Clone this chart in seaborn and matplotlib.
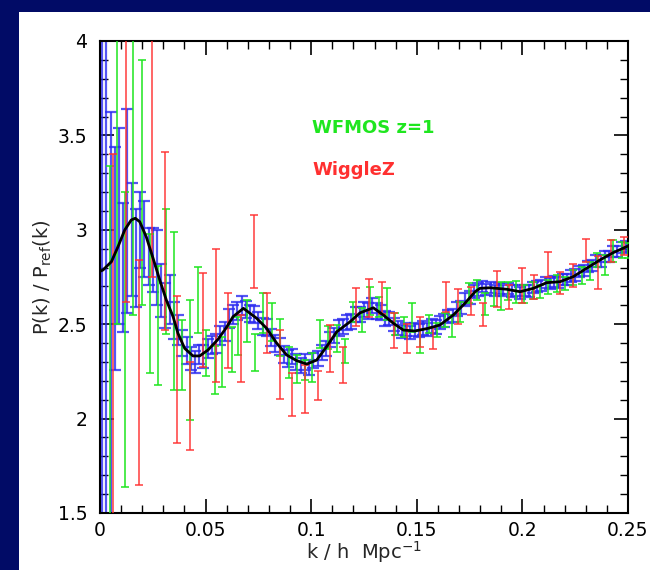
import matplotlib
matplotlib.use("Agg")
import matplotlib.pyplot as plt
from matplotlib.patches import Rectangle
from matplotlib.ticker import MultipleLocator
import seaborn as sns

# Model ratio curve P(k)/P_ref(k)
model_k = [0.0, 0.0014, 0.0054, 0.0085, 0.0117, 0.0148, 0.0167, 0.0188, 0.0219, 0.0251,
           0.0283, 0.0314, 0.0346, 0.0369, 0.0401, 0.044, 0.0472, 0.0511, 0.0559, 0.0597,
           0.063, 0.0679, 0.0742, 0.0789, 0.0837, 0.0884, 0.0931, 0.0979, 0.1026, 0.1073,
           0.1121, 0.1184, 0.1231, 0.1294, 0.1341, 0.1389, 0.1436, 0.1491, 0.1554, 0.161,
           0.1673, 0.1728, 0.1776, 0.1799, 0.1847, 0.1926, 0.1989, 0.2052, 0.2115, 0.2178,
           0.2241, 0.2304, 0.2367, 0.243, 0.25]
model_ratio = [2.78, 2.787, 2.831, 2.91, 2.999, 3.052, 3.061, 3.043, 2.963, 2.85,
               2.734, 2.628, 2.54, 2.452, 2.372, 2.332, 2.332, 2.363, 2.42, 2.48,
               2.54, 2.584, 2.531, 2.478, 2.399, 2.337, 2.307, 2.289, 2.31, 2.381,
               2.46, 2.513, 2.56, 2.587, 2.549, 2.505, 2.469, 2.464, 2.478, 2.496,
               2.549, 2.611, 2.672, 2.69, 2.693, 2.685, 2.672, 2.69, 2.72, 2.725,
               2.752, 2.796, 2.84, 2.879, 2.914]

# Simulated survey band powers: WFMOS z=1 (blue, fine binning)
wfmos_fine_k = [0.001, 0.003, 0.005, 0.007, 0.009, 0.011, 0.013, 0.015, 0.017, 0.019,
                0.021, 0.023, 0.025, 0.027, 0.029, 0.031, 0.033, 0.035, 0.037, 0.039,
                0.041, 0.043, 0.045, 0.047, 0.049, 0.051, 0.053, 0.055, 0.057, 0.059,
                0.061, 0.063, 0.065, 0.067, 0.069, 0.071, 0.073, 0.075, 0.077, 0.079,
                0.081, 0.083, 0.085, 0.087, 0.089, 0.091, 0.093, 0.095, 0.097, 0.099,
                0.101, 0.103, 0.105, 0.107, 0.109, 0.111, 0.113, 0.115, 0.117, 0.119,
                0.121, 0.123, 0.125, 0.127, 0.129, 0.131, 0.133, 0.135, 0.137, 0.139,
                0.141, 0.143, 0.145, 0.147, 0.149, 0.151, 0.153, 0.155, 0.157, 0.159,
                0.161, 0.163, 0.165, 0.167, 0.169, 0.171, 0.173, 0.175, 0.177, 0.179,
                0.181, 0.183, 0.185, 0.187, 0.189, 0.191, 0.193, 0.195, 0.197, 0.199,
                0.201, 0.203, 0.205, 0.207, 0.209, 0.211, 0.213, 0.215, 0.217, 0.219,
                0.221, 0.223, 0.225, 0.227, 0.229, 0.231, 0.233, 0.235, 0.237, 0.239,
                0.241, 0.243, 0.245, 0.247, 0.249]
wfmos_fine_p = [2.8, 2.9, 2.5, 2.85, 3.02, 2.8, 3.1, 2.95, 2.85, 3.0,
                2.95, 2.86, 2.84, 2.8, 2.68, 2.6, 2.63, 2.52, 2.47, 2.4,
                2.36, 2.32, 2.3, 2.34, 2.33, 2.37, 2.39, 2.4, 2.44, 2.46,
                2.53, 2.55, 2.57, 2.6, 2.58, 2.555, 2.55, 2.52, 2.49, 2.48,
                2.43, 2.4, 2.38, 2.34, 2.32, 2.33, 2.3, 2.28, 2.3, 2.27,
                2.31, 2.32, 2.35, 2.37, 2.42, 2.44, 2.48, 2.49, 2.51, 2.515,
                2.55, 2.55, 2.58, 2.57, 2.6, 2.57, 2.56, 2.53, 2.53, 2.5,
                2.48, 2.46, 2.47, 2.455, 2.47, 2.465, 2.48, 2.47, 2.49, 2.485,
                2.51, 2.52, 2.54, 2.545, 2.58, 2.59, 2.63, 2.64, 2.675, 2.685,
                2.7, 2.685, 2.695, 2.68, 2.69, 2.68, 2.69, 2.675, 2.68, 2.665,
                2.68, 2.675, 2.695, 2.7, 2.705, 2.72, 2.715, 2.725, 2.72, 2.735,
                2.735, 2.755, 2.76, 2.78, 2.785, 2.805, 2.81, 2.835, 2.835, 2.86,
                2.86, 2.885, 2.885, 2.905, 2.91]
wfmos_fine_err = [1.6, 1.5, 1.125, 0.59, 0.52, 0.34, 0.54, 0.3, 0.26, 0.2,
                  0.2, 0.15, 0.17, 0.2, 0.14, 0.12, 0.13, 0.1, 0.08, 0.07,
                  0.07, 0.06, 0.06, 0.05, 0.06, 0.05, 0.05, 0.05, 0.05, 0.05,
                  0.05, 0.05, 0.05, 0.05, 0.045, 0.045, 0.045, 0.045, 0.045, 0.045,
                  0.045, 0.045, 0.045, 0.045, 0.045, 0.04, 0.04, 0.04, 0.04, 0.04,
                  0.04, 0.04, 0.04, 0.04, 0.04, 0.04, 0.04, 0.04, 0.04, 0.04,
                  0.04, 0.04, 0.04, 0.04, 0.04, 0.04, 0.04, 0.04, 0.035, 0.035,
                  0.035, 0.035, 0.035, 0.035, 0.035, 0.035, 0.035, 0.035, 0.035, 0.035,
                  0.035, 0.035, 0.035, 0.035, 0.035, 0.035, 0.035, 0.035, 0.035, 0.035,
                  0.03, 0.03, 0.03, 0.03, 0.03, 0.03, 0.03, 0.03, 0.03, 0.03,
                  0.03, 0.03, 0.03, 0.03, 0.03, 0.03, 0.03, 0.03, 0.03, 0.03,
                  0.03, 0.03, 0.03, 0.03, 0.03, 0.03, 0.03, 0.03, 0.03, 0.03,
                  0.03, 0.03, 0.03, 0.03, 0.03]

# WFMOS z=1 (green)
wfmos_k = [0.0046, 0.008, 0.0118, 0.0155, 0.0197, 0.0236, 0.0275, 0.0314, 0.035, 0.0388,
           0.0426, 0.0464, 0.0503, 0.0543, 0.058, 0.0623, 0.0655, 0.0695, 0.0734, 0.077,
           0.0813, 0.0852, 0.0896, 0.0931, 0.0971, 0.1002, 0.1042, 0.1081, 0.1121, 0.116,
           0.12, 0.124, 0.128, 0.1319, 0.1359, 0.1397, 0.1438, 0.1477, 0.1517, 0.1556,
           0.1596, 0.1635, 0.1667, 0.1706, 0.1746, 0.1785, 0.1824, 0.1864, 0.1899, 0.1932,
           0.1971, 0.2008, 0.2049, 0.2083, 0.2123, 0.2162, 0.2202, 0.2241, 0.2281, 0.232,
           0.2352, 0.2391, 0.243, 0.247, 0.2498]
wfmos_p = [2.34, 3.5, 2.42, 3.6, 3.25, 2.61, 2.495, 2.78, 2.57, 2.337,
           2.31, 2.63, 2.348, 2.256, 2.3, 2.366, 2.439, 2.518, 2.35, 2.558,
           2.51, 2.43, 2.297, 2.262, 2.257, 2.27, 2.447, 2.431, 2.425, 2.36,
           2.565, 2.522, 2.622, 2.593, 2.606, 2.5, 2.487, 2.535, 2.407, 2.5,
           2.47, 2.522, 2.49, 2.566, 2.664, 2.681, 2.606, 2.643, 2.65, 2.677,
           2.67, 2.66, 2.678, 2.672, 2.696, 2.716, 2.716, 2.748, 2.758, 2.782,
           2.84, 2.814, 2.888, 2.893, 2.888]
wfmos_err = [1.0, 1.0, 0.78, 1.05, 0.65, 0.37, 0.315, 0.33, 0.42, 0.186,
             0.32, 0.175, 0.122, 0.126, 0.13, 0.118, 0.1, 0.11, 0.1, 0.106,
             0.1, 0.1, 0.084, 0.075, 0.053, 0.075, 0.075, 0.06, 0.071, 0.064,
             0.055, 0.062, 0.073, 0.053, 0.084, 0.058, 0.053, 0.075, 0.061, 0.048,
             0.036, 0.036, 0.058, 0.053, 0.053, 0.053, 0.058, 0.047, 0.075, 0.048,
             0.059, 0.048, 0.046, 0.035, 0.038, 0.044, 0.035, 0.04, 0.047, 0.048,
             0.035, 0.053, 0.058, 0.044, 0.04]

# WiggleZ (red)
wigglez_k = [0.0062, 0.0123, 0.0185, 0.0246, 0.0308, 0.0365, 0.0426, 0.0488, 0.0549, 0.0606,
             0.0668, 0.0729, 0.079, 0.0852, 0.0909, 0.097, 0.1032, 0.1089, 0.115, 0.1212,
             0.1274, 0.1335, 0.1392, 0.1454, 0.1515, 0.1577, 0.1638, 0.1695, 0.1757, 0.1813,
             0.188, 0.1937, 0.1998, 0.2055, 0.2121, 0.2178, 0.224, 0.2301, 0.2358, 0.242,
             0.2481]
wigglez_p = [2.4, 3.62, 2.245, 3.75, 2.94, 2.26, 2.067, 2.524, 2.546, 2.465,
             2.372, 2.884, 2.507, 2.286, 2.128, 2.156, 2.175, 2.371, 2.284, 2.592,
             2.64, 2.639, 2.467, 2.423, 2.459, 2.428, 2.646, 2.593, 2.622, 2.55,
             2.687, 2.644, 2.704, 2.697, 2.816, 2.717, 2.759, 2.889, 2.772, 2.889,
             2.915]
wigglez_err = [1.0, 1.0, 0.595, 1.0, 0.47, 0.39, 0.233, 0.249, 0.351, 0.199,
               0.177, 0.194, 0.158, 0.184, 0.113, 0.128, 0.076, 0.126, 0.097, 0.102,
               0.1, 0.085, 0.091, 0.077, 0.078, 0.059, 0.08, 0.092, 0.073, 0.06,
               0.097, 0.065, 0.093, 0.065, 0.064, 0.057, 0.06, 0.061, 0.087, 0.058,
               0.048]

x_ticks = [0, 0.05, 0.1, 0.15, 0.2, 0.25]
x_tick_labels = ["0", "0.05", "0.1", "0.15", "0.2", "0.25"]
y_ticks = [1.5, 2, 2.5, 3, 3.5, 4]
y_tick_labels = ["1.5", "2", "2.5", "3", "3.5", "4"]

NAVY = "#010B66"
BLUE = "#2b2bf0"
GREEN = "#1fe61f"
RED = "#ff3030"

sns.set_style("ticks")
plt.rcParams["font.family"] = ["DejaVu Sans"]

fig = plt.figure(figsize=(6.5, 5.7), dpi=100)
fig.patch.set_facecolor(NAVY)
fig.add_artist(Rectangle((19 / 650, 0), 1 - 19 / 650, 1 - 12 / 570,
                         transform=fig.transFigure, facecolor="white",
                         edgecolor="none", zorder=-10))

ax = fig.add_axes([100 / 650, 1 - 513 / 570, 528 / 650, 472 / 570])
ax.set_facecolor("white")

ax.errorbar(wfmos_fine_k, wfmos_fine_p, yerr=wfmos_fine_err, fmt="none",
            ecolor=BLUE, elinewidth=1.6, capsize=4, capthick=1.6, alpha=0.8, zorder=2)
ax.errorbar(wfmos_k, wfmos_p, yerr=wfmos_err, fmt="none",
            ecolor=GREEN, elinewidth=1.3, capsize=3, capthick=1.3, alpha=0.85, zorder=3)
ax.errorbar(wigglez_k, wigglez_p, yerr=wigglez_err, fmt="none",
            ecolor=RED, elinewidth=1.3, capsize=3, capthick=1.3, alpha=0.8, zorder=3)
sns.lineplot(x=model_k, y=model_ratio, color="black", linewidth=2.0, sort=False,
             ax=ax, zorder=5)

ax.set_xlim(0, 0.25)
ax.set_ylim(1.5, 4)
ax.set_xticks(x_ticks)
ax.set_xticklabels(x_tick_labels)
ax.set_yticks(y_ticks)
ax.set_yticklabels(y_tick_labels)
ax.xaxis.set_minor_locator(MultipleLocator(0.01))
ax.yaxis.set_minor_locator(MultipleLocator(0.1))
ax.tick_params(which="both", direction="in", top=True, right=True, colors="black",
               labelsize=13.5)
ax.tick_params(which="major", length=10, width=1.2)
ax.tick_params(which="minor", length=5.5, width=1.0)
ax.tick_params(axis="x", which="major", pad=6)
ax.tick_params(axis="y", which="major", pad=9)
for sp in ax.spines.values():
    sp.set_linewidth(1.5)
    sp.set_color("black")

ax.set_xlabel(r"k / h  Mpc$^{-1}$", fontsize=14)
ax.xaxis.set_label_coords(0.5, -0.055)
ax.set_ylabel(r"P(k) / P$_{\mathregular{ref}}$(k)", fontsize=14)
ax.yaxis.set_label_coords(-0.088, 0.5)

ax.text(0.1004, 3.54, "WFMOS z=1", color=GREEN, fontsize=13, fontweight="bold",
        va="center", ha="left")
ax.text(0.1004, 3.317, "WiggleZ", color=RED, fontsize=13, fontweight="bold",
        va="center", ha="left")

fig.savefig("out.png", dpi=100, facecolor=NAVY)
